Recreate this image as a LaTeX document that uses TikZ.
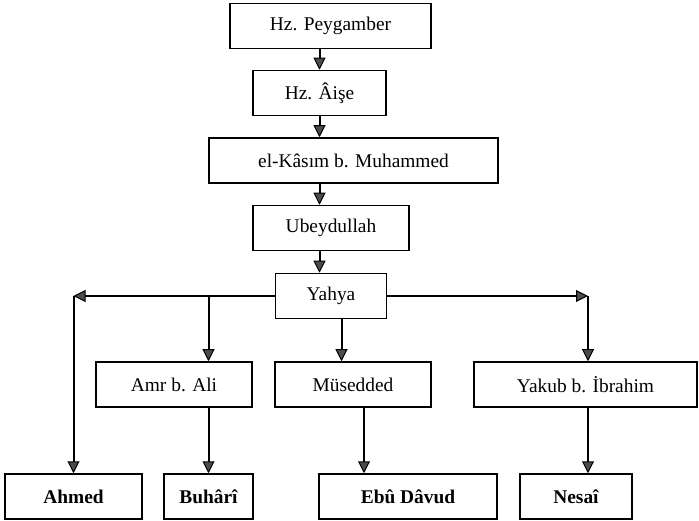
\documentclass[tikz,border=0pt]{standalone}
\usepackage{fontspec}
\setmainfont{Liberation Serif}
\usetikzlibrary{arrows.meta}

\begin{document}
\begin{tikzpicture}[x=1pt,y=-1pt,
  box/.style={draw, line width=1.5pt, inner sep=0pt,
    minimum height=45pt, font=\fontsize{19.4}{23}\selectfont},
  leaf/.style={box, font=\fontsize{19.4}{23}\selectfont\bfseries},
  arr/.style={-{Triangle[length=12pt,width=12pt,line width=1pt,fill=black!70]},
    line width=2pt}]

  \useasboundingbox (0,0) rectangle (699,521);

%%%%%%%%%%%%%%%%%%%%%%%%%%%%%%%%%%%%%%%%%%
  % Chain from the top
  \node[box, minimum width=201pt] (peyg)  at (330.5,26)  {Hz. Peygamber};
  \node[box, minimum width=133pt] (aise)  at (319.5,93)  {Hz. Âişe};
  \node[box, minimum width=289pt] (kasim) at (353.5,160.5) {el-Kâsım b. Muhammed};
  \node[box, minimum width=156pt] (ubey)  at (331,228)   {Ubeydullah};
  \node[box, minimum width=111pt] (yahya) at (331,296)   {Yahya};

  \draw[arr] (peyg.south -| aise) -- (aise.north);
  \draw[arr] (aise.south) -- (aise.south |- kasim.north);
  \draw[arr] (kasim.south -| aise) -- (ubey.north -| aise);
  \draw[arr] (ubey.south -| aise) -- (yahya.north -| aise);

%%%%%%%%%%%%%%%%%%%%%%%%%%%%%%%%%%%%%%%%%%
  % Middle row
  \node[box, minimum width=156pt] (amr)   at (174,384.5)   {Amr b. Ali};
  \node[box, minimum width=156pt] (mus)   at (353,384.5)   {Müsedded};
  \node[box, minimum width=223pt] (yakub) at (585.5,384.5) {Yakub b. İbrahim};

  % Bottom row
  \node[leaf, minimum width=137pt] (ahmed)  at (73.5,496.5)  {Ahmed};
  \node[leaf, minimum width=89pt]  (buhari) at (208.5,496.5) {Buhârî};
  \node[leaf, minimum width=178pt] (ebu)    at (408,496.5)   {Ebû Dâvud};
  \node[leaf, minimum width=112pt] (nesai)  at (576,496.5)   {Nesaî};

%%%%%%%%%%%%%%%%%%%%%%%%%%%%%%%%%%%%%%%%%%
  % Branches of Yahya
  \coordinate (lc) at (73.5,296);
  \coordinate (rc) at (588,296);
  \coordinate (ym) at (341.5,319);
  \coordinate (me) at (364,407);

  \draw[arr] (yahya.west) -- (lc);
  \draw[arr] (lc) -- (ahmed.north);
  \draw[arr] (yahya.east) -- (rc);
  \draw[arr] (rc) -- (rc |- yakub.north);
  \draw[arr] (yahya.west -| buhari) -- (amr.north -| buhari);
  \draw[arr] (ym) -- (ym |- mus.north);

  % Down to the bottom row
  \draw[arr] (amr.south -| buhari) -- (buhari.north);
  \draw[arr] (me) -- (me |- ebu.north);
  \draw[arr] (rc |- yakub.south) -- (rc |- nesai.north);

\end{tikzpicture}
\end{document}
